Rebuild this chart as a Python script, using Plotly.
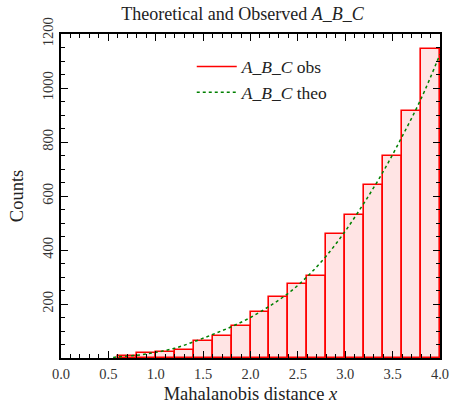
import plotly.graph_objects as go

# Histogram data (bin width 0.2)
bin_left = [0.6, 0.8, 1.0, 1.2, 1.4, 1.6, 1.8, 2.0, 2.2, 2.4, 2.6, 2.8, 3.0, 3.2, 3.4, 3.6, 3.8]
obs_counts = [8, 17, 23, 31, 64, 83, 120, 170, 227, 275, 305, 460, 530, 641, 747, 915, 1143]
bin_width = 0.2

# Theoretical curve
theo_x = [0.55, 0.6, 0.8, 1.0, 1.2, 1.4, 1.6, 1.8, 2.0, 2.2, 2.4, 2.6, 2.8, 3.0, 3.2, 3.4, 3.6, 3.8, 4.0]
theo_y = [2, 4, 10, 21, 36, 60, 87, 116, 150, 192, 240, 302, 378, 470, 575, 690, 820, 960, 1125]

x_ticks = [0.0, 0.5, 1.0, 1.5, 2.0, 2.5, 3.0, 3.5, 4.0]
y_ticks = [0, 200, 400, 600, 800, 1000, 1200]
y_ticktext = ["", "200", "400", "600", "800", "1000", "1200"]

FONT = "Liberation Serif"
lab = "<i>A</i>_<i>B</i>_<i>C</i>"

fig = go.Figure()
fig.add_trace(go.Bar(
    x=[b + bin_width / 2 for b in bin_left], y=obs_counts, width=bin_width,
    marker=dict(color="#ffe4e4", line=dict(color="red", width=1.6)),
    showlegend=False,
))
fig.add_trace(go.Scatter(
    x=[None], y=[None], mode="lines", line=dict(color="red", width=1.6),
    name=lab + " obs",
))
fig.add_trace(go.Scatter(
    x=theo_x, y=theo_y, mode="lines",
    line=dict(color="green", width=1.5, dash="dot", shape="spline"),
    name=lab + " theo",
))

axis_common = dict(
    showgrid=False, zeroline=False, showline=True, linecolor="black", linewidth=1.5,
    mirror="allticks", ticks="inside", ticklen=7, tickwidth=1.2, tickcolor="black",
    tickfont=dict(family=FONT, size=14.5, color="#333"), automargin=False,
    ticklabeloverflow="allow",
)
fig.update_xaxes(
    range=[0, 4.0], tickvals=x_ticks, tickformat=".1f",
    minor=dict(ticks="inside", ticklen=4, tickwidth=1, tickcolor="black", dtick=0.1, tick0=0, showgrid=False),
    title=dict(text="Mahalanobis distance <i>x</i>", font=dict(family=FONT, size=18.5, color="#222"), standoff=11),
    ticklabelstandoff=2,
    **axis_common,
)
fig.update_yaxes(
    range=[0, 1200], tickvals=y_ticks, ticktext=y_ticktext, tickangle=-90,
    minor=dict(ticks="inside", ticklen=4, tickwidth=1, tickcolor="black", tickmode="linear", dtick=50, tick0=0, showgrid=False),
    title=dict(text="Counts", font=dict(family=FONT, size=18.5, color="#222"), standoff=12),
    **axis_common,
)
fig.update_layout(
    width=449, height=404,
    margin=dict(l=61, r=9, t=34, b=46),
    paper_bgcolor="white", plot_bgcolor="white",
    bargap=0,
    title=dict(text="Theoretical and Observed " + lab, x=0.54, xanchor="center", y=0.965, yanchor="middle",
               font=dict(family=FONT, size=18, color="#222")),
    legend=dict(x=0.345, y=0.955, xanchor="left", yanchor="top", bgcolor="rgba(0,0,0,0)",
                font=dict(family=FONT, size=17.5, color="#222"), tracegroupgap=0, itemwidth=40),
    font=dict(family=FONT),
)
fig.write_html("out.html")
